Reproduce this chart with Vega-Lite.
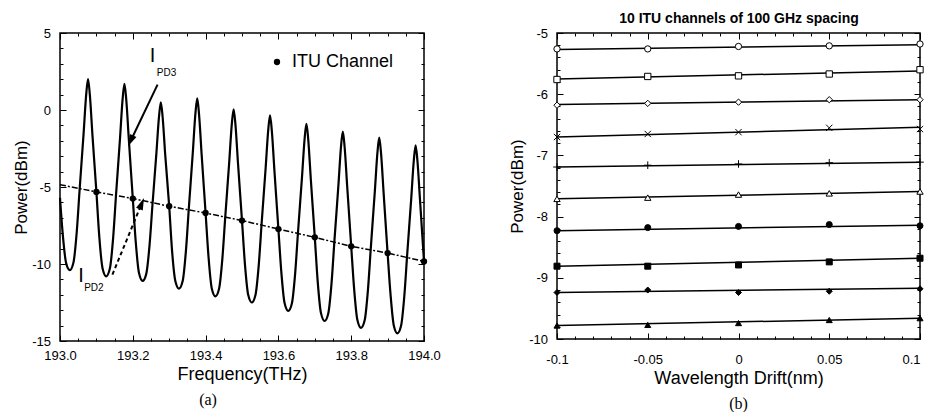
{
  "$schema": "https://vega.github.io/schema/vega-lite/v6.json",
  "background": "white",
  "padding": {"left": 11, "top": 10, "right": 2, "bottom": 5},
  "bounds": "flush",
  "spacing": 133,
  "resolve": {"scale": {"shape": "independent", "fill": "independent"}, "legend": {"shape": "independent", "fill": "independent"}},
  "config": {
    "font": "Liberation Sans",
    "view": {"stroke": "black", "strokeWidth": 1.5},
    "axis": {"domain": false, "ticks": false, "grid": false, "gridColor": "black", "gridOpacity": 1, "gridWidth": 1, "gridCap": "butt", "labelColor": "black", "titleColor": "black", "labelFont": "Liberation Sans", "titleFont": "Liberation Sans", "titleFontWeight": "normal", "labelFontSize": 13, "titleFontSize": 18},
    "title": {"font": "Liberation Serif", "fontSize": 16, "fontWeight": "normal", "color": "black"}
  },
  "datasets": {
    "spectrum": [
      {"f":193.000,"p":-5.70},{"f":193.008,"p":-8.19},{"f":193.017,"p":-9.96},{"f":193.027,"p":-10.40},
      {"f":193.037,"p":-9.90},{"f":193.046,"p":-7.92},{"f":193.054,"p":-5.13},{"f":193.065,"p":-1.47},{"f":193.072,"p":1.01},{"f":193.077,"p":2.00},{"f":193.082,"p":0.98},{"f":193.089,"p":-1.58},{"f":193.100,"p":-5.32},{"f":193.108,"p":-8.24},{"f":193.117,"p":-10.29},{"f":193.127,"p":-10.80},
      {"f":193.137,"p":-10.30},{"f":193.146,"p":-8.30},{"f":193.154,"p":-5.49},{"f":193.165,"p":-1.80},{"f":193.172,"p":0.70},{"f":193.177,"p":1.70},{"f":193.182,"p":0.68},{"f":193.189,"p":-1.88},{"f":193.200,"p":-5.75},{"f":193.208,"p":-8.54},{"f":193.217,"p":-10.59},{"f":193.227,"p":-11.10},
      {"f":193.237,"p":-10.64},{"f":193.246,"p":-8.78},{"f":193.254,"p":-6.17},{"f":193.265,"p":-2.75},{"f":193.272,"p":-0.43},{"f":193.277,"p":0.50},{"f":193.282,"p":-0.47},{"f":193.289,"p":-2.89},{"f":193.300,"p":-6.25},{"f":193.308,"p":-9.18},{"f":193.317,"p":-11.12},{"f":193.327,"p":-11.60},
      {"f":193.337,"p":-11.11},{"f":193.346,"p":-9.13},{"f":193.354,"p":-6.35},{"f":193.365,"p":-2.71},{"f":193.372,"p":-0.24},{"f":193.377,"p":0.75},{"f":193.382,"p":-0.28},{"f":193.389,"p":-2.85},{"f":193.400,"p":-6.69},{"f":193.408,"p":-9.53},{"f":193.417,"p":-11.59},{"f":193.427,"p":-12.10},
      {"f":193.437,"p":-11.61},{"f":193.446,"p":-9.67},{"f":193.454,"p":-6.94},{"f":193.465,"p":-3.35},{"f":193.472,"p":-0.92},{"f":193.477,"p":0.05},{"f":193.482,"p":-0.95},{"f":193.489,"p":-3.46},{"f":193.500,"p":-7.18},{"f":193.508,"p":-9.99},{"f":193.517,"p":-12.00},{"f":193.527,"p":-12.50},
      {"f":193.537,"p":-12.01},{"f":193.546,"p":-10.07},{"f":193.554,"p":-7.34},{"f":193.565,"p":-3.75},{"f":193.572,"p":-1.32},{"f":193.577,"p":-0.35},{"f":193.582,"p":-1.37},{"f":193.589,"p":-3.91},{"f":193.600,"p":-7.73},{"f":193.608,"p":-10.51},{"f":193.617,"p":-12.54},{"f":193.627,"p":-13.05},
      {"f":193.637,"p":-12.56},{"f":193.646,"p":-10.62},{"f":193.654,"p":-7.89},{"f":193.665,"p":-4.30},{"f":193.672,"p":-1.87},{"f":193.677,"p":-0.90},{"f":193.682,"p":-1.92},{"f":193.689,"p":-4.48},{"f":193.700,"p":-8.27},{"f":193.708,"p":-11.14},{"f":193.717,"p":-13.19},{"f":193.727,"p":-13.70},
      {"f":193.737,"p":-13.21},{"f":193.746,"p":-11.24},{"f":193.754,"p":-8.47},{"f":193.765,"p":-4.84},{"f":193.772,"p":-2.38},{"f":193.777,"p":-1.40},{"f":193.782,"p":-2.42},{"f":193.789,"p":-4.97},{"f":193.800,"p":-8.85},{"f":193.808,"p":-11.60},{"f":193.817,"p":-13.64},{"f":193.827,"p":-14.15},
      {"f":193.837,"p":-13.66},{"f":193.846,"p":-11.68},{"f":193.854,"p":-8.90},{"f":193.865,"p":-5.26},{"f":193.872,"p":-2.79},{"f":193.877,"p":-1.80},{"f":193.882,"p":-2.82},{"f":193.889,"p":-5.36},{"f":193.900,"p":-9.29},{"f":193.908,"p":-11.96},{"f":193.917,"p":-13.99},{"f":193.927,"p":-14.50},
      {"f":193.937,"p":-14.01},{"f":193.946,"p":-12.06},{"f":193.954,"p":-9.32},{"f":193.965,"p":-5.72},{"f":193.972,"p":-3.28},{"f":193.977,"p":-2.30},{"f":193.982,"p":-3.31},{"f":193.989,"p":-5.83},{"f":194.000,"p":-9.83}
    ],
    "ituCurve": [
      {"f":193.0,"p":-4.85},{"f":193.1,"p":-5.32},{"f":193.2,"p":-5.75},{"f":193.3,"p":-6.25},{"f":193.4,"p":-6.69},{"f":193.5,"p":-7.18},{"f":193.6,"p":-7.73},{"f":193.7,"p":-8.27},{"f":193.8,"p":-8.85},{"f":193.9,"p":-9.29},{"f":194.0,"p":-9.83}
    ],
    "ituChannels": [
      {"f":193.1,"p":-5.32,"series":"ITU Channel"},{"f":193.2,"p":-5.75,"series":"ITU Channel"},{"f":193.3,"p":-6.25,"series":"ITU Channel"},{"f":193.4,"p":-6.69,"series":"ITU Channel"},{"f":193.5,"p":-7.18,"series":"ITU Channel"},{"f":193.6,"p":-7.73,"series":"ITU Channel"},{"f":193.7,"p":-8.27,"series":"ITU Channel"},{"f":193.8,"p":-8.85,"series":"ITU Channel"},{"f":193.9,"p":-9.29,"series":"ITU Channel"},{"f":194.0,"p":-9.83,"series":"ITU Channel"}
    ],
    "drift": [
      {"series":"ch1","d":-0.1,"p":-5.26},{"series":"ch1","d":-0.05,"p":-5.26},{"series":"ch1","d":0,"p":-5.22},{"series":"ch1","d":0.05,"p":-5.21},{"series":"ch1","d":0.1,"p":-5.18},
      {"series":"ch2","d":-0.1,"p":-5.76},{"series":"ch2","d":-0.05,"p":-5.71},{"series":"ch2","d":0,"p":-5.70},{"series":"ch2","d":0.05,"p":-5.67},{"series":"ch2","d":0.1,"p":-5.60},
      {"series":"ch3","d":-0.1,"p":-6.18},{"series":"ch3","d":-0.05,"p":-6.15},{"series":"ch3","d":0,"p":-6.13},{"series":"ch3","d":0.05,"p":-6.09},{"series":"ch3","d":0.1,"p":-6.09},
      {"series":"ch4","d":-0.1,"p":-6.70},{"series":"ch4","d":-0.05,"p":-6.65},{"series":"ch4","d":0,"p":-6.62},{"series":"ch4","d":0.05,"p":-6.55},{"series":"ch4","d":0.1,"p":-6.57},
      {"series":"ch5","d":-0.1,"p":-7.19},{"series":"ch5","d":-0.05,"p":-7.16},{"series":"ch5","d":0,"p":-7.14},{"series":"ch5","d":0.05,"p":-7.12},{"series":"ch5","d":0.1,"p":-7.11},
      {"series":"ch6","d":-0.1,"p":-7.71},{"series":"ch6","d":-0.05,"p":-7.69},{"series":"ch6","d":0,"p":-7.64},{"series":"ch6","d":0.05,"p":-7.62},{"series":"ch6","d":0.1,"p":-7.59},
      {"series":"ch7","d":-0.1,"p":-8.23},{"series":"ch7","d":-0.05,"p":-8.18},{"series":"ch7","d":0,"p":-8.16},{"series":"ch7","d":0.05,"p":-8.13},{"series":"ch7","d":0.1,"p":-8.15},
      {"series":"ch8","d":-0.1,"p":-8.81},{"series":"ch8","d":-0.05,"p":-8.81},{"series":"ch8","d":0,"p":-8.79},{"series":"ch8","d":0.05,"p":-8.74},{"series":"ch8","d":0.1,"p":-8.68},
      {"series":"ch9","d":-0.1,"p":-9.24},{"series":"ch9","d":-0.05,"p":-9.20},{"series":"ch9","d":0,"p":-9.24},{"series":"ch9","d":0.05,"p":-9.22},{"series":"ch9","d":0.1,"p":-9.18},
      {"series":"ch10","d":-0.1,"p":-9.78},{"series":"ch10","d":-0.05,"p":-9.77},{"series":"ch10","d":0,"p":-9.74},{"series":"ch10","d":0.05,"p":-9.69},{"series":"ch10","d":0.1,"p":-9.66}
    ],
    "fits": [
      {"series":"ch1","d":-0.1,"p":-5.27},{"series":"ch1","d":0.1,"p":-5.19},
      {"series":"ch2","d":-0.1,"p":-5.75},{"series":"ch2","d":0.1,"p":-5.62},
      {"series":"ch3","d":-0.1,"p":-6.17},{"series":"ch3","d":0.1,"p":-6.09},
      {"series":"ch4","d":-0.1,"p":-6.70},{"series":"ch4","d":0.1,"p":-6.54},
      {"series":"ch5","d":-0.1,"p":-7.19},{"series":"ch5","d":0.1,"p":-7.11},
      {"series":"ch6","d":-0.1,"p":-7.71},{"series":"ch6","d":0.1,"p":-7.59},
      {"series":"ch7","d":-0.1,"p":-8.23},{"series":"ch7","d":0.1,"p":-8.14},
      {"series":"ch8","d":-0.1,"p":-8.81},{"series":"ch8","d":0.1,"p":-8.68},
      {"series":"ch9","d":-0.1,"p":-9.24},{"series":"ch9","d":0.1,"p":-9.17},
      {"series":"ch10","d":-0.1,"p":-9.78},{"series":"ch10","d":0.1,"p":-9.66}
    ]
  },
  "hconcat": [
    {
      "width": 364,
      "height": 308,
      "title": {"text": "(a)", "orient": "bottom", "offset": 9, "frame": "group", "dx": -34},
      "resolve": {"axis": {"x": "independent", "y": "independent"}},
      "layer": [
        {
          "data": {"name": "spectrum"},
          "mark": {"type": "line", "color": "black", "strokeWidth": 2.2, "interpolate": "monotone", "strokeJoin": "round"},
          "encoding": {
            "x": {"field": "f", "type": "quantitative", "scale": {"domain": [193, 194], "nice": false, "zero": false},
                  "axis": {"orient": "bottom", "values": [193, 193.2, 193.4, 193.6, 193.8, 194], "labelExpr": "format(datum.value, '.1f')", "labelFlush": false, "labelPadding": 8, "grid": true, "gridDash": [6, 296], "title": "Frequency(THz)", "titlePadding": 3}},
            "y": {"field": "p", "type": "quantitative", "scale": {"domain": [-15, 5], "nice": false, "zero": false},
                  "axis": {"orient": "left", "values": [-15, -10, -5, 0, 5], "labelExpr": "'' + datum.value", "labelPadding": 9.5, "grid": true, "gridDash": [6, 352], "title": "Power(dBm)", "titleFontSize": 17, "titlePadding": 1}}
          }
        },
        {
          "data": {"name": "ituCurve"},
          "mark": {"type": "line", "color": "black", "strokeWidth": 1.5, "strokeDash": [6, 2, 2, 2]},
          "encoding": {
            "x": {"field": "f", "type": "quantitative", "scale": {"domain": [193, 194], "nice": false, "zero": false},
                  "axis": {"orient": "bottom", "values": [193.05,193.1,193.15,193.25,193.3,193.35,193.45,193.5,193.55,193.65,193.7,193.75,193.85,193.9,193.95], "labels": false, "grid": true, "gridDash": [3, 302], "title": null}},
            "y": {"field": "p", "type": "quantitative", "scale": {"domain": [-15, 5], "nice": false, "zero": false},
                  "axis": {"orient": "left", "values": [-14,-13,-12,-11,-9,-8,-7,-6,-4,-3,-2,-1,1,2,3,4], "labels": false, "grid": true, "gridDash": [3, 358], "title": null}}
          }
        },
        {
          "data": {"name": "ituChannels"},
          "mark": {"type": "point", "filled": true, "color": "black", "size": 40, "opacity": 1, "clip": false},
          "encoding": {
            "x": {"field": "f", "type": "quantitative", "scale": {"domain": [193, 194], "nice": false, "zero": false}, "axis": null},
            "y": {"field": "p", "type": "quantitative", "scale": {"domain": [-15, 5], "nice": false, "zero": false}, "axis": null},
            "shape": {"field": "series", "type": "nominal", "scale": {"domain": ["ITU Channel"], "range": ["circle"]},
                      "legend": {"title": null, "orient": "none", "legendX": 208, "legendY": 20, "labelFontSize": 18, "labelFont": "Liberation Sans", "labelColor": "black", "symbolSize": 40, "symbolFillColor": "black", "symbolStrokeColor": "black", "symbolType": "circle", "labelOffset": 6, "padding": 0}}
          }
        },
        {
          "data": {"values": [{"f": 193.268, "p": 1.65}, {"f": 193.194, "p": -2.01}]},
          "mark": {"type": "line", "color": "black", "strokeWidth": 2},
          "encoding": {
            "x": {"field": "f", "type": "quantitative", "scale": {"domain": [193, 194], "nice": false, "zero": false}, "axis": null},
            "y": {"field": "p", "type": "quantitative", "scale": {"domain": [-15, 5], "nice": false, "zero": false}, "axis": null}
          }
        },
        {
          "data": {"values": [{"f": 193.194, "p": -2.01}]},
          "mark": {"type": "point", "shape": "M0,-1L0.6,1L-0.6,1Z", "filled": true, "color": "black", "size": 144, "opacity": 1, "angle": 205.5},
          "encoding": {
            "x": {"field": "f", "type": "quantitative", "scale": {"domain": [193, 194], "nice": false, "zero": false}, "axis": null},
            "y": {"field": "p", "type": "quantitative", "scale": {"domain": [-15, 5], "nice": false, "zero": false}, "axis": null}
          }
        },
        {
          "data": {"values": [{"f": 193.144, "p": -10.69}, {"f": 193.2245, "p": -6.07}]},
          "mark": {"type": "line", "color": "black", "strokeWidth": 2, "strokeDash": [4, 3]},
          "encoding": {
            "x": {"field": "f", "type": "quantitative", "scale": {"domain": [193, 194], "nice": false, "zero": false}, "axis": null},
            "y": {"field": "p", "type": "quantitative", "scale": {"domain": [-15, 5], "nice": false, "zero": false}, "axis": null}
          }
        },
        {
          "data": {"values": [{"f": 193.2245, "p": -6.07}]},
          "mark": {"type": "point", "shape": "M0,-1L0.6,1L-0.6,1Z", "filled": true, "color": "black", "size": 144, "opacity": 1, "angle": 22.4},
          "encoding": {
            "x": {"field": "f", "type": "quantitative", "scale": {"domain": [193, 194], "nice": false, "zero": false}, "axis": null},
            "y": {"field": "p", "type": "quantitative", "scale": {"domain": [-15, 5], "nice": false, "zero": false}, "axis": null}
          }
        },
        {
          "data": {"values": [{"f": 193.254, "p": 3.49, "label": "I"}, {"f": 193.058, "p": -10.8, "label": "I"}]},
          "mark": {"type": "text", "font": "Liberation Sans", "fontSize": 20, "color": "black", "align": "center", "baseline": "middle"},
          "encoding": {
            "x": {"field": "f", "type": "quantitative", "scale": {"domain": [193, 194], "nice": false, "zero": false}, "axis": null},
            "y": {"field": "p", "type": "quantitative", "scale": {"domain": [-15, 5], "nice": false, "zero": false}, "axis": null},
            "text": {"field": "label"}
          }
        },
        {
          "data": {"values": [{"f": 193.2926, "p": 2.4, "label": "PD3"}, {"f": 193.093, "p": -11.58, "label": "PD2"}]},
          "mark": {"type": "text", "font": "Liberation Sans", "fontSize": 10, "color": "black", "align": "center", "baseline": "middle"},
          "encoding": {
            "x": {"field": "f", "type": "quantitative", "scale": {"domain": [193, 194], "nice": false, "zero": false}, "axis": null},
            "y": {"field": "p", "type": "quantitative", "scale": {"domain": [-15, 5], "nice": false, "zero": false}, "axis": null},
            "text": {"field": "label"}
          }
        }
      ]
    },
    {
      "width": 363,
      "height": 306,
      "title": {"text": "(b)", "orient": "bottom", "offset": 8, "frame": "group"},
      "resolve": {"axis": {"x": "independent", "y": "independent"}},
      "layer": [
        {
          "data": {"name": "fits"},
          "transform": [{"filter": {"field": "series", "oneOf": ["ch1", "ch2", "ch3", "ch4", "ch5", "ch6"]}}],
          "mark": {"type": "line", "color": "black", "strokeWidth": 1.5},
          "encoding": {
            "detail": {"field": "series", "type": "nominal"},
            "x": {"field": "d", "type": "quantitative", "scale": {"domain": [-0.1, 0.1], "nice": false, "zero": false},
                  "axis": {"orient": "bottom", "values": [-0.1, -0.05, 0, 0.05, 0.1], "labelExpr": "'' + datum.value", "labelFlush": false, "labelAlign": {"condition": {"test": "datum.value > 0.09", "value": "right"}, "value": "center"}, "labelPadding": 14.5, "grid": true, "gridDash": [6, 294], "title": "Wavelength Drift(nm)", "titlePadding": 3}},
            "y": {"field": "p", "type": "quantitative", "scale": {"domain": [-10, -5], "nice": false, "zero": false},
                  "axis": {"orient": "left", "values": [-10, -9, -8, -7, -6, -5], "labelExpr": "'' + datum.value", "labelPadding": 9.5, "grid": true, "gridDash": [6, 351], "title": "Power(dBm)", "titleFontSize": 17, "titlePadding": 2}}
          }
        },
        {
          "data": {"name": "fits"},
          "transform": [{"filter": {"field": "series", "oneOf": ["ch7", "ch8", "ch9", "ch10"]}}],
          "mark": {"type": "line", "color": "black", "strokeWidth": 1.5},
          "encoding": {
            "detail": {"field": "series", "type": "nominal"},
            "x": {"field": "d", "type": "quantitative", "scale": {"domain": [-0.1, 0.1], "nice": false, "zero": false},
                  "axis": {"orient": "bottom", "values": [-0.09,-0.08,-0.07,-0.06,-0.04,-0.03,-0.02,-0.01,0.01,0.02,0.03,0.04,0.06,0.07,0.08,0.09], "labels": false, "grid": true, "gridDash": [3, 300], "title": null}},
            "y": {"field": "p", "type": "quantitative", "scale": {"domain": [-10, -5], "nice": false, "zero": false},
                  "axis": {"orient": "left", "values": [-9.8,-9.6,-9.4,-9.2,-8.8,-8.6,-8.4,-8.2,-7.8,-7.6,-7.4,-7.2,-6.8,-6.6,-6.4,-6.2,-5.8,-5.6,-5.4,-5.2], "labels": false, "grid": true, "gridDash": [3, 357], "title": null}}
          }
        },
        {
          "data": {"name": "drift"},
          "transform": [{"filter": {"field": "series", "oneOf": ["ch1", "ch2", "ch3", "ch4", "ch5", "ch6"]}}],
          "mark": {"type": "point", "filled": true, "stroke": "black", "strokeWidth": 1, "size": 40, "opacity": 1, "clip": false},
          "encoding": {
            "x": {"field": "d", "type": "quantitative", "scale": {"domain": [-0.1, 0.1], "nice": false, "zero": false},
                  "axis": {"orient": "top", "values": [-0.1, -0.05, 0, 0.05, 0.1], "labels": false, "grid": false, "title": "10 ITU channels of 100 GHz spacing", "titleFontWeight": "bold", "titleFontSize": 14, "titlePadding": 8}},
            "y": {"field": "p", "type": "quantitative", "scale": {"domain": [-10, -5], "nice": false, "zero": false}, "axis": null},
            "shape": {"field": "series", "type": "nominal", "legend": null,
                      "scale": {"domain": ["ch1","ch2","ch3","ch4","ch5","ch6","ch7","ch8","ch9","ch10"], "range": ["circle","square","diamond","M-1,-1L1,1M-1,1L1,-1","M-1.2,0L1.2,0M0,-1.2L0,1.2","triangle-up","circle","square","diamond","triangle-up"]}},
            "fill": {"field": "series", "type": "nominal", "legend": null,
                     "scale": {"domain": ["ch1","ch2","ch3","ch4","ch5","ch6","ch7","ch8","ch9","ch10"], "range": ["white","white","white","white","white","white","black","black","black","black"]}}
          }
        },
        {
          "data": {"name": "drift"},
          "transform": [{"filter": {"field": "series", "oneOf": ["ch7", "ch8", "ch9", "ch10"]}}],
          "mark": {"type": "point", "filled": true, "stroke": "black", "strokeWidth": 1, "size": 36, "opacity": 1, "clip": false},
          "encoding": {
            "x": {"field": "d", "type": "quantitative", "scale": {"domain": [-0.1, 0.1], "nice": false, "zero": false}, "axis": null},
            "y": {"field": "p", "type": "quantitative", "scale": {"domain": [-10, -5], "nice": false, "zero": false}, "axis": null},
            "shape": {"field": "series", "type": "nominal", "legend": null,
                      "scale": {"domain": ["ch1","ch2","ch3","ch4","ch5","ch6","ch7","ch8","ch9","ch10"], "range": ["circle","square","diamond","M-1,-1L1,1M-1,1L1,-1","M-1.2,0L1.2,0M0,-1.2L0,1.2","triangle-up","circle","square","diamond","triangle-up"]}},
            "fill": {"field": "series", "type": "nominal", "legend": null,
                     "scale": {"domain": ["ch1","ch2","ch3","ch4","ch5","ch6","ch7","ch8","ch9","ch10"], "range": ["white","white","white","white","white","white","black","black","black","black"]}}
          }
        }
      ]
    }
  ]
}
